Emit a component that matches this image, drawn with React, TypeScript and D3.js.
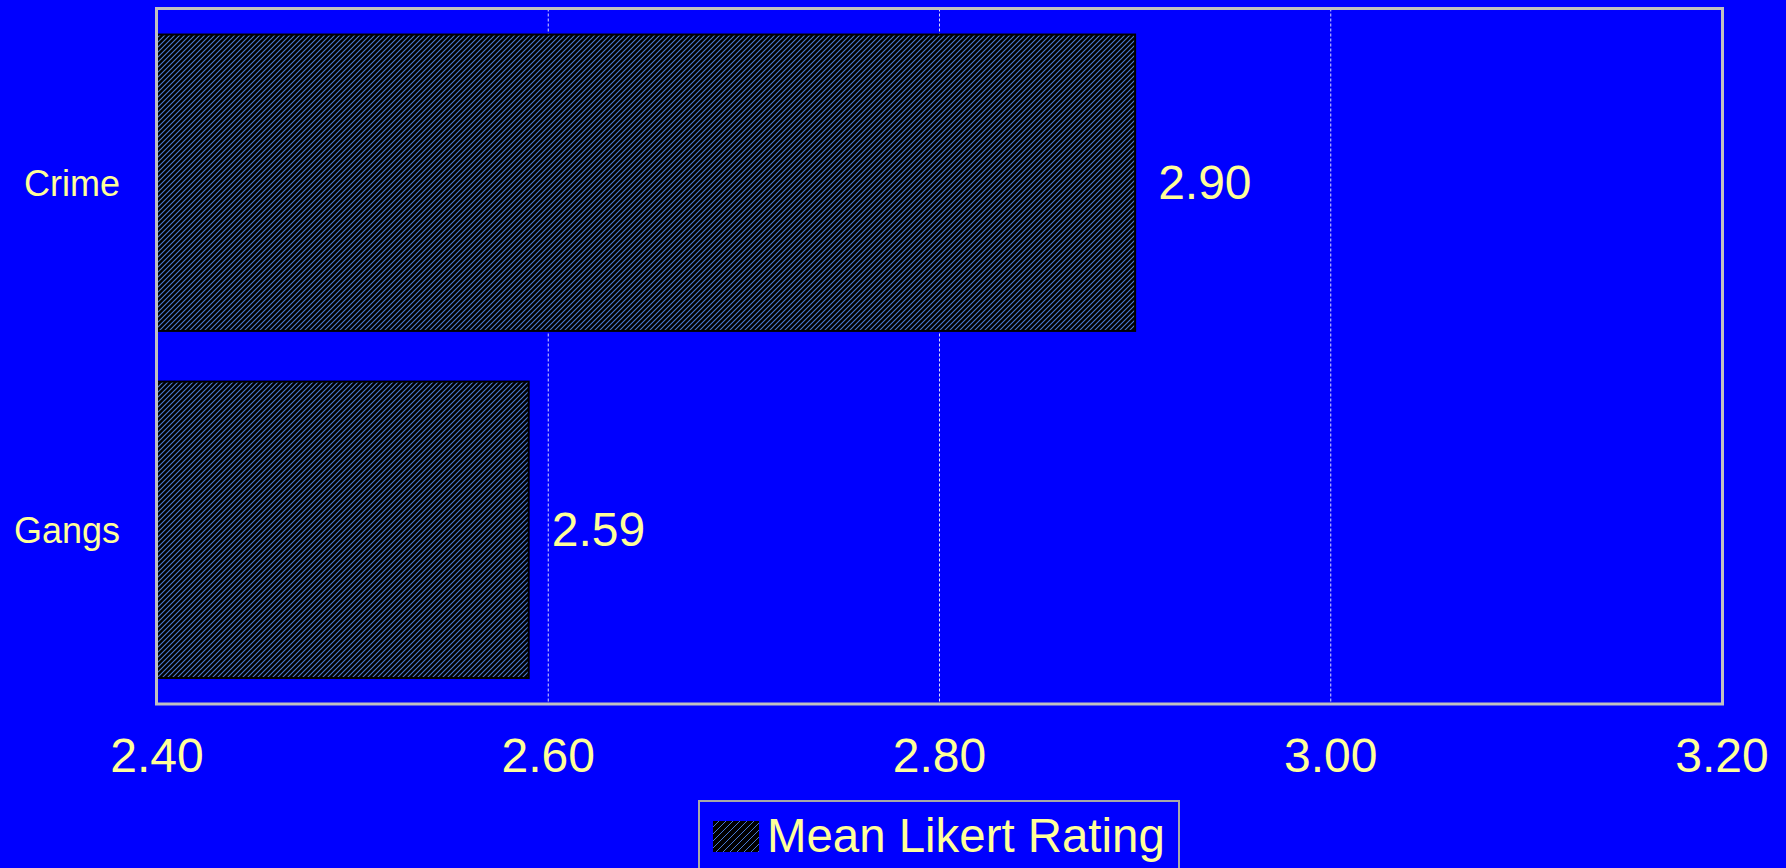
import React from "react";
import * as d3 from "d3";

const categories = ["Crime", "Gangs"];
const values = [2.9, 2.59];
const valueLabels = ["2.90", "2.59"];
const tickValues = [2.4, 2.6, 2.8, 3.0, 3.2];
const tickLabels = ["2.40", "2.60", "2.80", "3.00", "3.20"];
const legendLabel = "Mean Likert Rating";

const W = 1786;
const H = 868;
const plot = { left: 157, right: 1722, top: 8.5, bottom: 704 };
const font = "'Liberation Sans', Arial, sans-serif";
const textColor = "#ffff99";

export default function App() {
  const x = d3.scaleLinear().domain([2.4, 3.2]).range([plot.left, plot.right]);
  const y = d3
    .scaleBand<string>()
    .domain(categories)
    .range([plot.top, plot.bottom])
    .paddingInner(0.146)
    .paddingOuter(0.075);

  return (
    <svg
      width={W}
      height={H}
      style={{ position: "fixed", left: 0, top: 0, display: "block" }}
      fontFamily={font}
    >
      <defs>
        <pattern id="hatch" patternUnits="userSpaceOnUse" width={5} height={5}>
          <rect width={5} height={5} fill="#000" />
          <path d="M-1,1 l2,-2 M0,5 l5,-5 M4,6 l2,-2" stroke="#4a7ad0" strokeWidth={1.1} />
        </pattern>
        <pattern id="hatch2" patternUnits="userSpaceOnUse" width={7} height={7}>
          <rect width={7} height={7} fill="#000" />
          <path d="M-1,1 l2,-2 M0,7 l7,-7 M6,8 l2,-2" stroke="#4a7ad0" strokeWidth={1} />
        </pattern>
      </defs>
      <rect x={0} y={0} width={W} height={H} fill="#0000ff" />

      {/* gridlines */}
      {tickValues.slice(1, -1).map((t) => (
        <line
          key={t}
          x1={x(t)}
          x2={x(t)}
          y1={plot.top}
          y2={plot.bottom}
          stroke="#d8d8ff"
          strokeWidth={1}
          strokeDasharray="3,2"
        />
      ))}

      {/* bars */}
      {categories.map((c, i) => (
        <g key={c}>
          <rect
            x={x(2.4)}
            y={y(c)!}
            width={x(values[i]) - x(2.4)}
            height={y.bandwidth()}
            fill="url(#hatch)"
            stroke="#000"
            strokeWidth={2}
          />
          <text
            x={x(values[i]) + 23}
            y={y(c)! + y.bandwidth() / 2 + 16}
            fill={textColor}
            fontSize={48}
          >
            {valueLabels[i]}
          </text>
          <text
            x={120}
            y={y(c)! + y.bandwidth() / 2 + 13}
            fill={textColor}
            fontSize={36}
            textAnchor="end"
          >
            {c}
          </text>
        </g>
      ))}

      {/* frame */}
      <rect
        x={plot.left - 0.5}
        y={plot.top}
        width={plot.right - plot.left + 1}
        height={plot.bottom - plot.top}
        fill="none"
        stroke="#c0c0c0"
        strokeWidth={3}
      />

      {/* x tick labels */}
      {tickValues.map((t, i) => (
        <text
          key={t}
          x={x(t)}
          y={772}
          fill={textColor}
          fontSize={48}
          textAnchor="middle"
        >
          {tickLabels[i]}
        </text>
      ))}

      {/* legend */}
      <rect x={699} y={801} width={480} height={90} fill="none" stroke="#a8a8a8" strokeWidth={2} />
      <rect x={713} y={821} width={46} height={31} fill="url(#hatch2)" />
      <text x={767} y={852} fill={textColor} fontSize={47.4}>
        {legendLabel}
      </text>
    </svg>
  );
}
